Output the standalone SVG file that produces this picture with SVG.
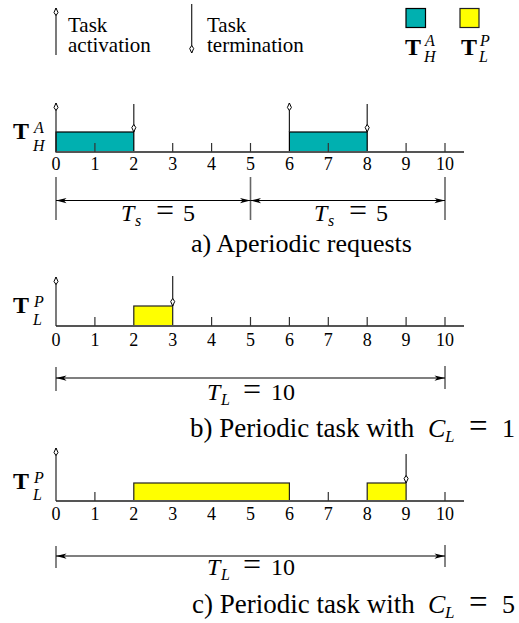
<svg xmlns="http://www.w3.org/2000/svg" width="519" height="623" viewBox="0 0 519 623">
<defs>
<marker id="open" markerUnits="userSpaceOnUse" markerWidth="14" markerHeight="10" viewBox="-10 -5 12 10" refX="0" refY="0" orient="auto" overflow="visible">
<path d="M0,0 L-4.5,-2 L-7.5,0 L-4.5,2 Z" fill="#fff" stroke="#000" stroke-width="1"/>
</marker>
<marker id="dimhead" markerUnits="userSpaceOnUse" markerWidth="14" markerHeight="10" viewBox="-14 -5 16 10" refX="0" refY="0" orient="auto-start-reverse" overflow="visible">
<path d="M0,0 L-12,-3 L-9,0 L-12,3 Z" fill="#000"/>
</marker>
</defs>

<g id="legend">
<g stroke="#222" stroke-width="1.2" fill="none" marker-end="url(#open)">
<line x1="56" y1="55" x2="56" y2="8"/>
<line x1="191.7" y1="4" x2="191.7" y2="53"/>
</g>
<text font-family="Liberation Serif" font-size="21" x="68" y="32">Task</text>
<text font-family="Liberation Serif" font-size="21" x="68" y="52">activation</text>
<text font-family="Liberation Serif" font-size="21" x="207" y="32">Task</text>
<text font-family="Liberation Serif" font-size="21" x="207" y="52">termination</text>
<rect x="406" y="8.5" width="19.5" height="19" fill="#00B0B0" stroke="#000" stroke-width="1.2"/>
<rect x="460" y="8.5" width="19" height="19" fill="#FFFF00" stroke="#222" stroke-width="1.2"/>
<text font-family="Liberation Serif" font-weight="bold" x="405" y="55" font-size="24">T</text>
<text font-family="Liberation Serif" font-style="italic" x="425" y="46" font-size="16">A</text>
<text font-family="Liberation Serif" font-style="italic" x="424" y="62" font-size="16">H</text>
<text font-family="Liberation Serif" font-weight="bold" x="461" y="55" font-size="24">T</text>
<text font-family="Liberation Serif" font-style="italic" x="480" y="46" font-size="16">P</text>
<text font-family="Liberation Serif" font-style="italic" x="479" y="62" font-size="16">L</text>
</g>

<g id="timeline-a">
<text font-family="Liberation Serif" font-weight="bold" x="13" y="139" font-size="24">T</text>
<text font-family="Liberation Serif" font-style="italic" x="34" y="133" font-size="16">A</text>
<text font-family="Liberation Serif" font-style="italic" x="33" y="151" font-size="16">H</text>
<rect x="56" y="132" width="77.8" height="20" fill="#00B0B0" stroke="#000" stroke-width="1.2"/>
<rect x="289.4" y="132" width="77.8" height="20" fill="#00B0B0" stroke="#000" stroke-width="1.2"/>
<line x1="56" y1="152" x2="464" y2="152" stroke="#555" stroke-width="2"/>
<path d="M94.9,143V152M172.7,143V152M211.6,143V152M250.5,143V152M328.3,143V152M406.1,143V152M445,143V152" stroke="#333" stroke-width="1.2" fill="none"/>
<g stroke="#222" stroke-width="1.2" fill="none" marker-end="url(#open)">
<line x1="56" y1="152" x2="56" y2="103"/>
<line x1="289.4" y1="132" x2="289.4" y2="103"/>
<line x1="133.8" y1="104" x2="133.8" y2="132"/>
<line x1="367.2" y1="104" x2="367.2" y2="132"/>
</g>
<text font-family="Liberation Serif" font-size="18" text-anchor="middle" x="56" y="170">0</text><text font-family="Liberation Serif" font-size="18" text-anchor="middle" x="94.9" y="170">1</text><text font-family="Liberation Serif" font-size="18" text-anchor="middle" x="133.8" y="170">2</text><text font-family="Liberation Serif" font-size="18" text-anchor="middle" x="172.7" y="170">3</text><text font-family="Liberation Serif" font-size="18" text-anchor="middle" x="211.6" y="170">4</text><text font-family="Liberation Serif" font-size="18" text-anchor="middle" x="250.5" y="170">5</text><text font-family="Liberation Serif" font-size="18" text-anchor="middle" x="289.4" y="170">6</text><text font-family="Liberation Serif" font-size="18" text-anchor="middle" x="328.3" y="170">7</text><text font-family="Liberation Serif" font-size="18" text-anchor="middle" x="367.2" y="170">8</text><text font-family="Liberation Serif" font-size="18" text-anchor="middle" x="406.1" y="170">9</text><text font-family="Liberation Serif" font-size="18" text-anchor="middle" x="445" y="170">10</text>
<path d="M56,177V220M250.5,177V220M445,177V220" stroke="#666" stroke-width="1.6" fill="none"/>
<g stroke="#000" stroke-width="1.1" fill="none" marker-start="url(#dimhead)" marker-end="url(#dimhead)">
<line x1="56" y1="200.5" x2="250.5" y2="200.5"/>
<line x1="250.5" y1="200.5" x2="445" y2="200.5"/>
</g>
<text font-family="Liberation Serif" font-style="italic" font-size="24" x="121" y="221">T</text>
<text font-family="Liberation Serif" font-style="italic" x="135" y="226" font-size="16">s</text>
<text font-family="Liberation Serif" font-size="32" x="156" y="221">=</text>
<text font-family="Liberation Serif" font-size="24" x="183" y="221">5</text>
<text font-family="Liberation Serif" font-style="italic" font-size="24" x="314" y="221">T</text>
<text font-family="Liberation Serif" font-style="italic" x="328" y="226" font-size="16">s</text>
<text font-family="Liberation Serif" font-size="32" x="349" y="221">=</text>
<text font-family="Liberation Serif" font-size="24" x="376" y="221">5</text>
<text font-family="Liberation Serif" font-size="26" x="191" y="252">a) Aperiodic requests</text>
</g>

<g id="timeline-b">
<text font-family="Liberation Serif" font-weight="bold" x="13" y="313" font-size="24">T</text>
<text font-family="Liberation Serif" font-style="italic" x="34" y="307" font-size="16">P</text>
<text font-family="Liberation Serif" font-style="italic" x="33" y="325" font-size="16">L</text>
<rect x="133.8" y="306" width="38.9" height="20" fill="#FFFF00" stroke="#222" stroke-width="1.2"/>
<line x1="56" y1="326" x2="464" y2="326" stroke="#555" stroke-width="2"/>
<path d="M94.9,317V326M211.6,317V326M250.5,317V326M289.4,317V326M328.3,317V326M367.2,317V326M406.1,317V326M445,317V326" stroke="#333" stroke-width="1.2" fill="none"/>
<g stroke="#222" stroke-width="1.2" fill="none" marker-end="url(#open)">
<line x1="56" y1="326" x2="56" y2="277"/>
<line x1="172.7" y1="276" x2="172.7" y2="306"/>
</g>
<text font-family="Liberation Serif" font-size="18" text-anchor="middle" x="56" y="346">0</text><text font-family="Liberation Serif" font-size="18" text-anchor="middle" x="94.9" y="346">1</text><text font-family="Liberation Serif" font-size="18" text-anchor="middle" x="133.8" y="346">2</text><text font-family="Liberation Serif" font-size="18" text-anchor="middle" x="172.7" y="346">3</text><text font-family="Liberation Serif" font-size="18" text-anchor="middle" x="211.6" y="346">4</text><text font-family="Liberation Serif" font-size="18" text-anchor="middle" x="250.5" y="346">5</text><text font-family="Liberation Serif" font-size="18" text-anchor="middle" x="289.4" y="346">6</text><text font-family="Liberation Serif" font-size="18" text-anchor="middle" x="328.3" y="346">7</text><text font-family="Liberation Serif" font-size="18" text-anchor="middle" x="367.2" y="346">8</text><text font-family="Liberation Serif" font-size="18" text-anchor="middle" x="406.1" y="346">9</text><text font-family="Liberation Serif" font-size="18" text-anchor="middle" x="445" y="346">10</text>
<path d="M56,367V391M445,366V389" stroke="#666" stroke-width="1.6" fill="none"/>
<line x1="56" y1="378" x2="445" y2="378" stroke="#000" stroke-width="1.1" marker-start="url(#dimhead)" marker-end="url(#dimhead)"/>
<text font-family="Liberation Serif" font-style="italic" font-size="24" x="207" y="400">T</text>
<text font-family="Liberation Serif" font-style="italic" x="221" y="405" font-size="16">L</text>
<text font-family="Liberation Serif" font-size="32" x="243" y="400">=</text>
<text font-family="Liberation Serif" font-size="24" x="271" y="400">10</text>
<text font-family="Liberation Serif" font-size="27" x="190" y="437">b) Periodic task with</text>
<text font-family="Liberation Serif" font-style="italic" font-size="26" x="428" y="437">C</text>
<text font-family="Liberation Serif" font-style="italic" x="445" y="442" font-size="17">L</text>
<text font-family="Liberation Serif" font-size="33" x="469" y="437">=</text>
<text font-family="Liberation Serif" font-size="26" x="502" y="437">1</text>
</g>

<g id="timeline-c">
<text font-family="Liberation Serif" font-weight="bold" x="13" y="489" font-size="24">T</text>
<text font-family="Liberation Serif" font-style="italic" x="34" y="483" font-size="16">P</text>
<text font-family="Liberation Serif" font-style="italic" x="33" y="500" font-size="16">L</text>
<rect x="133.8" y="483" width="155.6" height="18" fill="#FFFF00" stroke="#222" stroke-width="1.2"/>
<rect x="367.2" y="483" width="38.9" height="18" fill="#FFFF00" stroke="#222" stroke-width="1.2"/>
<line x1="56" y1="501" x2="464" y2="501" stroke="#555" stroke-width="2"/>
<path d="M94.9,492V501M328.3,492V501M445,492V501" stroke="#333" stroke-width="1.2" fill="none"/>
<g stroke="#222" stroke-width="1.2" fill="none" marker-end="url(#open)">
<line x1="56" y1="501" x2="56" y2="448"/>
<line x1="406.1" y1="454" x2="406.1" y2="483"/>
</g>
<text font-family="Liberation Serif" font-size="18" text-anchor="middle" x="56" y="520">0</text><text font-family="Liberation Serif" font-size="18" text-anchor="middle" x="94.9" y="520">1</text><text font-family="Liberation Serif" font-size="18" text-anchor="middle" x="133.8" y="520">2</text><text font-family="Liberation Serif" font-size="18" text-anchor="middle" x="172.7" y="520">3</text><text font-family="Liberation Serif" font-size="18" text-anchor="middle" x="211.6" y="520">4</text><text font-family="Liberation Serif" font-size="18" text-anchor="middle" x="250.5" y="520">5</text><text font-family="Liberation Serif" font-size="18" text-anchor="middle" x="289.4" y="520">6</text><text font-family="Liberation Serif" font-size="18" text-anchor="middle" x="328.3" y="520">7</text><text font-family="Liberation Serif" font-size="18" text-anchor="middle" x="367.2" y="520">8</text><text font-family="Liberation Serif" font-size="18" text-anchor="middle" x="406.1" y="520">9</text><text font-family="Liberation Serif" font-size="18" text-anchor="middle" x="445" y="520">10</text>
<path d="M56,546V568M445,545V567" stroke="#666" stroke-width="1.6" fill="none"/>
<line x1="56" y1="556" x2="445" y2="556" stroke="#000" stroke-width="1.1" marker-start="url(#dimhead)" marker-end="url(#dimhead)"/>
<text font-family="Liberation Serif" font-style="italic" font-size="24" x="207" y="575">T</text>
<text font-family="Liberation Serif" font-style="italic" x="221" y="580" font-size="16">L</text>
<text font-family="Liberation Serif" font-size="32" x="243" y="575">=</text>
<text font-family="Liberation Serif" font-size="24" x="271" y="575">10</text>
<text font-family="Liberation Serif" font-size="27" x="192" y="613">c) Periodic task with</text>
<text font-family="Liberation Serif" font-style="italic" font-size="26" x="428" y="613">C</text>
<text font-family="Liberation Serif" font-style="italic" x="445" y="618" font-size="17">L</text>
<text font-family="Liberation Serif" font-size="33" x="469" y="613">=</text>
<text font-family="Liberation Serif" font-size="26" x="502" y="613">5</text>
</g>
</svg>
